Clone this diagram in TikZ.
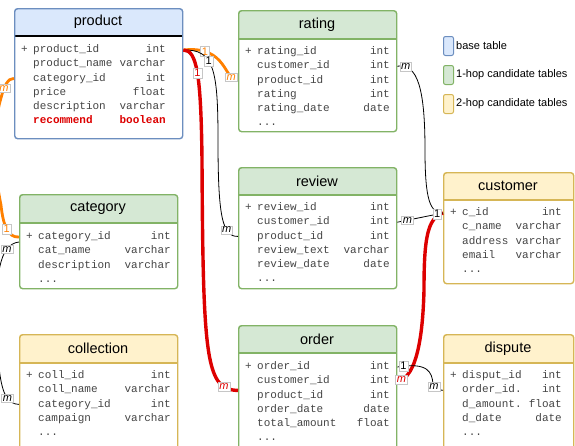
\documentclass[tikz,border=0pt]{standalone}
\usepackage{fontspec}
\setmainfont{Liberation Sans}
\setmonofont{Liberation Mono}
\usetikzlibrary{positioning}
\definecolor{basefill}{HTML}{DAE8FC}
\definecolor{baseline}{HTML}{6C8EBF}
\definecolor{hopfill}{HTML}{D5E8D4}
\definecolor{hopline}{HTML}{82B366}
\definecolor{twofill}{HTML}{FFF2CC}
\definecolor{twoline}{HTML}{D6B656}
\definecolor{linkred}{HTML}{DD0000}
\definecolor{linkorange}{HTML}{FF8000}
\definecolor{fieldgray}{HTML}{454545}
\tikzset{
table box/.style={draw,line width=1.4pt,rounded corners=3pt,anchor=north west,inner sep=0pt},
title/.style={inner sep=0pt,font=\fontsize{14.5}{17}\selectfont},
field/.style={anchor=west,inner sep=0pt,text height=8pt,text depth=2.5pt,text=fieldgray,font=\fontsize{11}{13}\selectfont\ttfamily},
ftype/.style={field,anchor=east},
card/.style={fill=white,draw=gray!45,line width=0.4pt,inner sep=1.3pt,font=\fontsize{11}{12}\selectfont},
link/.style={line width=0.8pt},
red link/.style={line width=3.4pt,linkred},
orange link/.style={line width=2.8pt,linkorange},
swatch/.style={draw,line width=1pt,rounded corners=2pt,minimum width=10pt,minimum height=19pt,inner sep=0pt,anchor=north west},
legend/.style={inner sep=0pt,font=\fontsize{11}{13}\selectfont}}
% table frame: name, x1, y1, x2, y2, header bottom, colour, title
\newcommand{\ertable}[8]{%
\begin{scope}
\clip[rounded corners=3pt] (#2,#3) rectangle (#4,#5);
\fill[white] (#2,#3) rectangle (#4,#5);
\fill[#7fill] (#2,#3) rectangle (#4,#6);
\end{scope}
\draw[#7line,line width=1.4pt] (#2,#6) -- (#4,#6);
\node[table box,draw=#7line,minimum width={(#4-#2)*1pt},minimum height={(#5-#3)*1pt}] (#1) at (#2,#3) {};
\node[title] (#1-title) at ({(#2+#4)/2},{(#3+#6)/2}) {#8};}
% table rows: name, x of names, x of types, y of first row, rows
\newcommand{\erfields}[5]{%
\node[field] (#1-key) at (#2-12,#4) {+};
\foreach \fn/\ft [count=\i] in {#5}{
\node[field] (#1-\i) at (#2,{#4+14.2*(\i-1)}) {\fn};
\node[ftype] (#1-\i-type) at (#3,{#4+14.2*(\i-1)}) {\ft};}}

\begin{document}
\begin{tikzpicture}[x=1pt,y=-1pt]
\useasboundingbox (0,0) rectangle (575,445);
\clip (0,0) rectangle (575,445);

% tables
\ertable{product}{14}{8}{182}{138}{36}{base}{product}
\erfields{product}{33}{166}{50}{product\_id/int,product\_name/varchar,category\_id/int,price/float,description/varchar}
\node[field,text=linkred,font=\fontsize{11}{13}\selectfont\ttfamily\bfseries] (product-6) at (33,121) {recommend};
\node[ftype,text=linkred,font=\fontsize{11}{13}\selectfont\ttfamily\bfseries] (product-6-type) at (166,121) {boolean};

\ertable{rating}{238}{10}{396}{131}{39}{hop}{rating}
\erfields{rating}{257}{390}{52}{rating\_id/int,customer\_id/int,product\_id/int,rating/int,rating\_date/date}
\node[field] (rating-more) at (257,123) {...};

\ertable{review}{238}{167}{396}{288}{195}{hop}{review}
\erfields{review}{257}{390}{208}{review\_id/int,customer\_id/int,product\_id/int,review\_text/varchar,review\_date/date}
\node[field] (review-more) at (257,279) {...};

\ertable{order}{238}{325}{396}{460}{353}{hop}{order}
\erfields{order}{257}{390}{367}{order\_id/int,customer\_id/int,product\_id/int,order\_date/date,total\_amount/float}
\node[field] (order-more) at (257,438) {...};

\ertable{category}{19}{194}{177}{288}{223}{hop}{category}
\erfields{category}{38}{171}{237}{category\_id/int,cat\_name/varchar,description/varchar}
\node[field] (category-more) at (38,280) {...};

\ertable{collection}{19}{334}{177}{460}{363}{two}{collection}
\erfields{collection}{38}{171}{376}{coll\_id/int,coll\_name/varchar,category\_id/int,campaign/varchar}
\node[field] (collection-more) at (38,433) {...};

\ertable{customer}{443}{172}{573}{283}{200}{two}{customer}
\erfields{customer}{462}{562}{213}{c\_id/int,c\_name/varchar,address/varchar,email/varchar}
\node[field] (customer-more) at (462,270) {...};

\ertable{dispute}{443}{334}{573}{460}{363}{two}{dispute}
\erfields{dispute}{462}{562}{376}{disput\_id/int,order\_id./int,d\_amount./float,d\_date/date}
\node[field] (dispute-more) at (462,433) {...};

% legend
\node[swatch,draw=baseline,fill=basefill] (key-base) at (443,36) {};
\node[legend,right=2pt of key-base] (key-base-text) {base table};
\node[swatch,draw=hopline,fill=hopfill,below=9pt of key-base] (key-hop) {};
\node[legend,right=2pt of key-hop] (key-hop-text) {1-hop candidate tables};
\node[swatch,draw=twoline,fill=twofill,below=9pt of key-hop] (key-two) {};
\node[legend,right=2pt of key-two] (key-two-text) {2-hop candidate tables};

% links
\draw[orange link] (product.east |- product-1) .. controls (228,45) and (224,82) .. (rating.west |- rating-3)
  node[card,pos=0.2] {1} node[card,pos=0.8] {\textit{m}};
\draw[link] (product.east |- product-1) .. controls (214,49) and (218,70) .. (218,140) node[card,pos=0.4] {1}
  .. controls (218,215) and (222,237) .. (review.west |- review-3) node[card,pos=0.7] {\textit{m}};
\draw[red link] (product.east |- product-1) .. controls (197,50) and (201,75) .. (202,160) node[card,pos=0.5] {1}
  .. controls (203,360) and (206,390) .. ([yshift=5pt]order.west |- order-3) node[card,pos=0.83] {\textit{m}};

\draw[link] (rating.east |- rating-2) .. controls (418,63) and (425,90) .. (425,150) node[card,pos=0.15] {\textit{m}}
  .. controls (425,200) and (430,213) .. (customer.west |- customer-1);
\draw[red link] (order.east |- order-2) .. controls (418,378) and (423,330) .. (424,290) node[card,pos=0.07] {\textit{m}}
  .. controls (424,240) and (427,218) .. (customer.west |- customer-1);
\draw[link] (review.east |- review-2) -- (customer.west |- customer-1)
  node[card,pos=0.22] {\textit{m}} node[card,pos=0.87] {1};

\draw[link] (order.east |- order-1) .. controls (428,362) and (432,372) .. (433,384) node[card,pos=0.07] {1}
  .. controls (434,390) and (438,390) .. (dispute.west |- dispute-2) node[card,pos=0.2] {\textit{m}};

\draw[orange link] (category.west |- category-1) .. controls (8,238) and (3,225) .. (1,205) node[card,pos=0.5] {1}
  .. controls (-8,160) and (-8,130) .. (1,98)
  .. controls (4,86) and (8,78) .. (product.west |- product-3) node[card,pos=0.3] {\textit{m}};
\draw[link] (collection.west |- collection-3) .. controls (8,404) and (3,395) .. (0,375) node[card,pos=0.45] {\textit{m}}
  .. controls (-6,330) and (-6,290) .. (0,266)
  .. controls (3,252) and (9,243) .. ([yshift=-5pt]category.west |- category-1) node[card,pos=0.5] {\textit{m}};

\end{tikzpicture}
\end{document}
